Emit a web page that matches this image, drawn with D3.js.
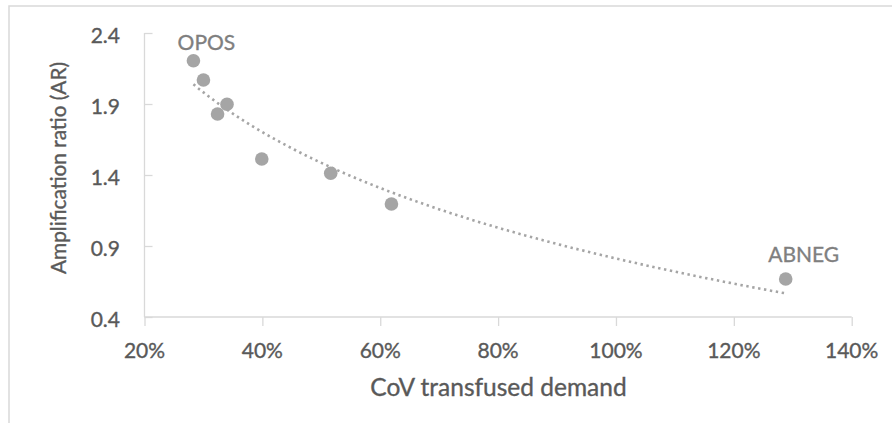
<!DOCTYPE html>
<html><head><meta charset="utf-8">
<script src="https://cdn.jsdelivr.net/npm/d3@7"></script>
<style>html,body{margin:0;padding:0;background:#fff;}svg{display:block;}
text{paint-order:stroke;stroke-width:0.35px;}</style>
</head><body>
<svg id="c" width="892" height="423"></svg>
<script>
// Data (CoV of transfused demand as fraction, amplification ratio)
const groups = ["OPOS", "", "", "", "", "", "", "ABNEG"];
const cov = [0.283, 0.300, 0.340, 0.324, 0.399, 0.516, 0.619, 1.288];
const ar  = [2.205, 2.069, 1.898, 1.830, 1.513, 1.412, 1.196, 0.668];
const xTicks = [0.2, 0.4, 0.6, 0.8, 1.0, 1.2, 1.4];
const yTicks = [0.4, 0.9, 1.4, 1.9, 2.4];
const xTitle = "CoV transfused demand";
const yTitle = "Amplification ratio (AR)";

const svg = d3.select("#c");
const FONT = "Lato, 'Open Sans', sans-serif";
const axisCol = "#d9d9d9", textCol = "#595959", markCol = "#a5a5a5";

// chart frame
svg.append("rect").attr("x", 9).attr("y", 6).attr("width", 1000).attr("height", 600)
  .attr("fill", "none").attr("stroke", axisCol).attr("stroke-width", 1.5);

const x = d3.scaleLinear().domain([0.2, 1.4]).range([144.5, 851.7]);
const y = d3.scaleLinear().domain([0.4, 2.4]).range([317, 33]);

function txt(sel, size, col) {
  return sel.attr("font-family", FONT).attr("font-size", size).attr("fill", col).attr("stroke", col);
}

// y axis
const yAx = svg.append("g").attr("transform", `translate(${x(0.2)},0)`)
  .call(d3.axisRight(y).tickValues(yTicks).tickSize(8).tickFormat(""));
yAx.select(".domain").attr("stroke", axisCol).attr("stroke-width", 1.3).attr("d", `M0,${y(2.4)}V${y(0.4)}`);
yAx.selectAll(".tick line").attr("stroke", axisCol).attr("stroke-width", 1.3);
txt(svg.append("g").selectAll("text").data(yTicks).join("text")
  .attr("x", 120).attr("y", d => y(d) + 9.5).attr("text-anchor", "end"), 21, textCol)
  .text(d => d3.format(".1f")(d));

// x axis
const xAx = svg.append("g").attr("transform", `translate(0,${y(0.4)})`)
  .call(d3.axisBottom(x).tickValues(xTicks).tickSize(9).tickFormat(""));
xAx.select(".domain").attr("stroke", axisCol).attr("stroke-width", 1.3).attr("d", `M${x(0.2)},0H${x(1.4)}`);
xAx.selectAll(".tick line").attr("stroke", axisCol).attr("stroke-width", 1.3);
txt(svg.append("g").selectAll("text").data(xTicks).join("text")
  .attr("x", d => x(d)).attr("y", 358).attr("text-anchor", "middle"), 21, textCol)
  .text(d => d3.format(".0%")(d));

// axis titles
txt(svg.append("text").attr("x", 498.5).attr("y", 396).attr("text-anchor", "middle"), 24.5, textCol).text(xTitle);
txt(svg.append("text").attr("transform", "translate(66,168) rotate(-90)").attr("text-anchor", "middle"), 20.8, textCol).text(yTitle);

// logarithmic trendline fitted to the data (y = a + b ln x)
const lx = cov.map(Math.log);
const mx = d3.mean(lx), my = d3.mean(ar);
const b = d3.sum(lx.map((v, i) => (v - mx) * (ar[i] - my))) / d3.sum(lx.map(v => (v - mx) ** 2));
const a = my - b * mx;
const [xmin, xmax] = d3.extent(cov);
const trend = d3.range(0, 101).map(i => { const xv = xmin + (xmax - xmin) * i / 100; return [xv, a + b * Math.log(xv)]; });
svg.append("path").datum(trend)
  .attr("d", d3.line().x(d => x(d[0])).y(d => y(d[1])))
  .attr("fill", "none").attr("stroke", markCol).attr("stroke-width", 2.6)
  .attr("stroke-dasharray", "2.4,3.6");

// points
svg.append("g").selectAll("circle").data(cov).join("circle")
  .attr("cx", d => x(d)).attr("cy", (d, i) => y(ar[i])).attr("r", 6.8).attr("fill", markCol);

// labels
const offs = {"OPOS": [13, -10.7], "ABNEG": [18, -17]};
txt(svg.append("g").selectAll("text").data(groups.map((g, i) => ({g, i})).filter(d => d.g))
  .join("text")
  .attr("x", d => x(cov[d.i]) + offs[d.g][0]).attr("y", d => y(ar[d.i]) + offs[d.g][1])
  .attr("text-anchor", "middle"), 21, "#7f7f7f").text(d => d.g);
</script>
</body></html>
